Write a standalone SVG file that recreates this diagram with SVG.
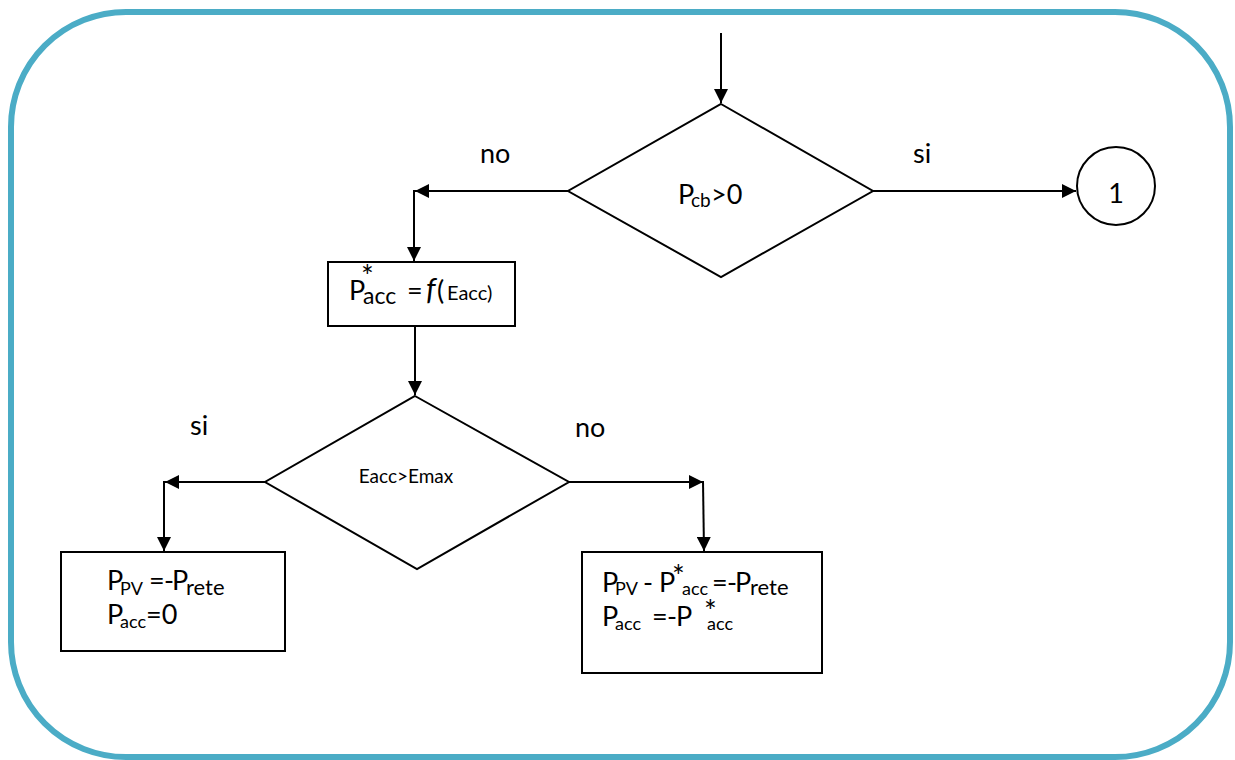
<svg xmlns="http://www.w3.org/2000/svg" width="1235" height="760" viewBox="0 0 1235 760">
<defs>
<marker id="ah" markerUnits="userSpaceOnUse" markerWidth="14" markerHeight="14" refX="14" refY="7" orient="auto"><path d="M0,0 L14,7 L0,14 z" fill="#000"/></marker>
</defs>
<style>
.shape{fill:#fff;stroke:#000;stroke-width:2}
.conn{fill:none;stroke:#000;stroke-width:2}
text{font-family:Lato,"Liberation Sans",sans-serif;fill:#000}
.m{font-size:27px}
.s{font-size:18px}
.t{font-size:22px}
.a{font-size:30px}
.e{font-size:20px}
</style>
<rect x="0" y="0" width="1235" height="760" fill="#fff"/>
<rect id="frame" x="11" y="12" width="1219" height="745" rx="115" fill="#fff" stroke="#4BACC6" stroke-width="6"/>

<g id="connectors">
<path class="conn" d="M721,33 L721,103" marker-end="url(#ah)"/>
<path class="conn" d="M568,191 L415,191" marker-end="url(#ah)"/>
<path class="conn" d="M414,190 L414,261" marker-end="url(#ah)"/>
<path class="conn" d="M873,191 L1076,191" marker-end="url(#ah)"/>
<path class="conn" d="M415,326 L415,395" marker-end="url(#ah)"/>
<path class="conn" d="M265,482 L165,482" marker-end="url(#ah)"/>
<path class="conn" d="M164,481 L164,551" marker-end="url(#ah)"/>
<path class="conn" d="M569,482 L703,482" marker-end="url(#ah)"/>
<path class="conn" d="M703,481 L704,551" marker-end="url(#ah)"/>
</g>

<g id="labels">
<text class="m" x="480" y="163">no</text>
<text class="m" x="913" y="163">si</text>
<text class="m" x="190" y="435">si</text>
<text class="m" x="575" y="437">no</text>
</g>

<g id="decision1">
<polygon class="shape" points="721,104 873,191 721,277 568,191"/>
<text class="m"><tspan x="678" y="204">P</tspan><tspan style="font-size:19px" x="691" y="207">cb</tspan><tspan x="711" y="204">&gt;0</tspan></text>
</g>

<g id="connector1">
<circle class="shape" cx="1116" cy="186" r="39"/>
<text class="m" x="1116" y="203" text-anchor="middle">1</text>
</g>

<g id="process1">
<rect class="shape" x="328" y="262" width="187" height="64"/>
<text class="m"><tspan x="349" y="300">P</tspan><tspan class="a" x="361" y="287">*</tspan><tspan style="font-size:23px" x="363" y="304">acc</tspan><tspan x="407" y="300">=</tspan><tspan x="426" y="300" font-style="italic" style="font-size:30px">f</tspan><tspan x="437" y="300">(</tspan><tspan class="e" x="447" y="300">Eacc)</tspan></text>
</g>

<g id="decision2">
<polygon class="shape" points="415,396 569,482 417,569 265,482"/>
<text x="406" y="483" text-anchor="middle" style="font-size:19px">Eacc&gt;Emax</text>
</g>

<g id="processLeft">
<rect class="shape" x="61" y="552" width="224" height="99"/>
<text class="m"><tspan x="107" y="590">P</tspan><tspan class="s" x="120" y="595">PV</tspan><tspan x="149" y="590">=</tspan><tspan x="164" y="590">-</tspan><tspan x="172" y="590">P</tspan><tspan class="t" x="186" y="595">rete</tspan></text>
<text class="m"><tspan x="107" y="624">P</tspan><tspan class="s" x="120" y="628">acc</tspan><tspan x="146" y="624">=0</tspan></text>
</g>

<g id="processRight">
<rect class="shape" x="582" y="552" width="240" height="121"/>
<text class="m"><tspan x="602" y="592">P</tspan><tspan class="s" x="615" y="595">PV</tspan><tspan x="643" y="592">-</tspan><tspan x="659" y="592">P</tspan><tspan class="a" x="672" y="587">*</tspan><tspan class="s" x="682" y="595">acc</tspan><tspan x="712" y="592">=</tspan><tspan x="727" y="592">-</tspan><tspan x="735" y="592">P</tspan><tspan class="t" x="750" y="595">rete</tspan></text>
<text class="m"><tspan x="602" y="626">P</tspan><tspan class="s" x="615" y="630">acc</tspan><tspan x="652" y="626">=</tspan><tspan x="667" y="626">-</tspan><tspan x="676" y="626">P</tspan><tspan class="a" x="704" y="622">*</tspan><tspan class="s" x="707" y="630">acc</tspan></text>
</g>
</svg>
